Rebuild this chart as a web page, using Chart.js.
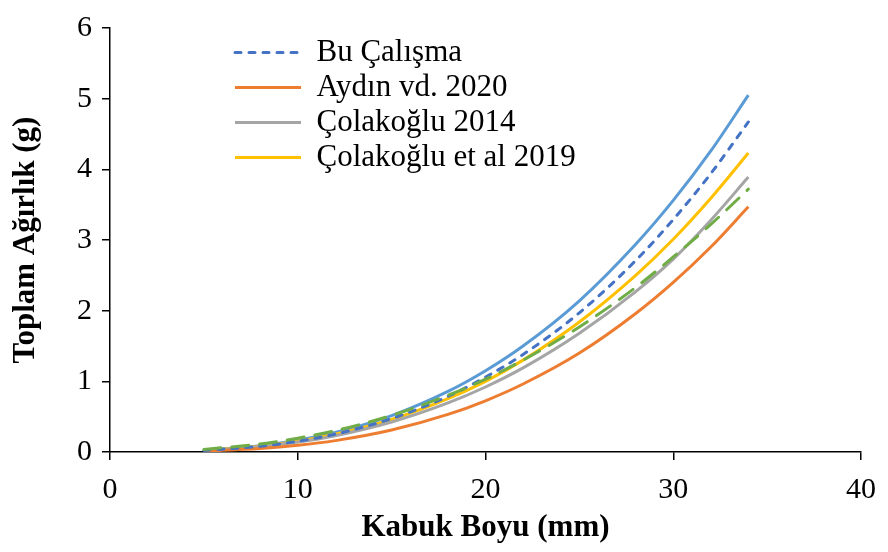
<!DOCTYPE html>
<html><head><meta charset="utf-8">
<script src="https://cdn.jsdelivr.net/npm/chart.js@4.4.1/dist/chart.umd.min.js"></script>
<style>html,body{margin:0;padding:0;background:#fff;}#wrap{width:888px;height:552px;}</style>
</head><body><div id="wrap"><canvas id="c" width="888" height="552"></canvas></div>
<script>
// ---- data ----
const xValues        = [5, 8, 10, 12, 15, 18, 20, 22, 25, 28, 30, 32, 34];
const buCalisma      = [0.022, 0.081, 0.152, 0.253, 0.473, 0.787, 1.06, 1.38, 1.97, 2.71, 3.29, 3.94, 4.67];
const aydin2020      = [0.012, 0.049, 0.094, 0.161, 0.311, 0.532, 0.725, 0.962, 1.40, 1.96, 2.40, 2.90, 3.47];
const colakoglu2014  = [0.022, 0.077, 0.141, 0.231, 0.424, 0.694, 0.920, 1.19, 1.68, 2.27, 2.73, 3.28, 3.89];
const colakoglu2019  = [0.023, 0.084, 0.153, 0.252, 0.461, 0.755, 1.00, 1.30, 1.84, 2.50, 3.01, 3.59, 4.23];
const extraBlue      = [0.024, 0.089, 0.166, 0.276, 0.515, 0.857, 1.15, 1.50, 2.14, 2.94, 3.56, 4.26, 5.05];
const extraGreen     = [0.037, 0.114, 0.195, 0.302, 0.518, 0.803, 1.03, 1.30, 1.77, 2.33, 2.76, 3.22, 3.72];
const seriesLabels   = ['Bu Çalışma', 'Aydın vd. 2020', 'Çolakoğlu 2014', 'Çolakoğlu et al 2019'];
const xTicks = [0, 10, 20, 30, 40];
const yTicks = [0, 1, 2, 3, 4, 5, 6];
const xTitle = 'Kabuk Boyu (mm)';
const yTitle = 'Toplam Ağırlık (g)';

const pts = arr => arr.map((v, i) => ({x: xValues[i], y: v}));
const FONT = '"Liberation Serif", "Times New Roman", serif';
Chart.defaults.font.family = FONT;
Chart.defaults.color = '#000';

function ds(label, data, color, dash) {
  return {
    label: label, data: pts(data), borderColor: color, backgroundColor: color,
    borderWidth: 3, borderDash: dash || [], borderCapStyle: dash ? 'round' : 'butt',
    pointRadius: 0, pointHoverRadius: 0, fill: false,
    cubicInterpolationMode: 'monotone'
  };
}

const datasets = [
  ds('', extraGreen, '#70AD47', [17, 11]),
  ds(seriesLabels[0], buCalisma, '#4472C4', [6, 8]),
  ds(seriesLabels[1], aydin2020, '#ED7D31'),
  ds(seriesLabels[2], colakoglu2014, '#A5A5A5'),
  ds(seriesLabels[3], colakoglu2019, '#FFC000'),
  ds('', extraBlue, '#5B9BD5')
];

const legendMover = {
  id: 'legendMover',
  afterLayout(chart) {
    const lg = chart.legend; if (!lg) return;
    const w = lg.width, h = lg.height;
    lg.left = 231; lg.top = 33; lg.right = lg.left + w; lg.bottom = lg.top + h;
  }
};

function axis(min, max, ticks, title, isX) {
  return {
    type: 'linear', min: min, max: max,
    afterBuildTicks: s => { s.ticks = ticks.map(v => ({value: v})); },
    afterFit: s => { if (isX) s.height = 100; else s.width = 110; },
    ticks: { font: {size: 30}, color: '#000', padding: isX ? 12 : 10 },
    grid: { drawOnChartArea: false, drawTicks: true, tickLength: 8, color: '#000', lineWidth: 1.5 },
    border: { display: true, color: '#000', width: 1.5 },
    title: { display: true, text: title, color: '#000', font: {size: 31, weight: 'bold'},
             padding: isX ? {top: 0, bottom: 5} : {top: 7, bottom: 0} }
  };
}

new Chart(document.getElementById('c'), {
  type: 'line',
  data: { datasets: datasets },
  options: {
    responsive: false, animation: false, devicePixelRatio: 1,
    layout: { padding: { top: 17, right: 22, left: 0, bottom: 0 } },
    scales: { x: axis(0, 40, xTicks, xTitle, true), y: axis(0, 6, yTicks, yTitle, false) },
    plugins: {
      tooltip: { enabled: false },
      legend: {
        position: 'chartArea', align: 'start',
        labels: {
          font: {size: 31}, color: '#000', padding: 4,
          usePointStyle: true, pointStyle: 'line', pointStyleWidth: 66,
          generateLabels: chart => Chart.defaults.plugins.legend.labels.generateLabels(chart).map(it => {
            const d = chart.data.datasets[it.datasetIndex];
            it.strokeStyle = d.borderColor; it.fillStyle = d.borderColor;
            it.lineWidth = d.borderWidth; it.lineDash = d.borderDash;
            it.lineCap = d.borderCapStyle; it.pointStyle = 'line';
            return it;
          }),
          filter: item => !!item.text
        }
      }
    }
  },
  plugins: [legendMover]
});
</script></body></html>
